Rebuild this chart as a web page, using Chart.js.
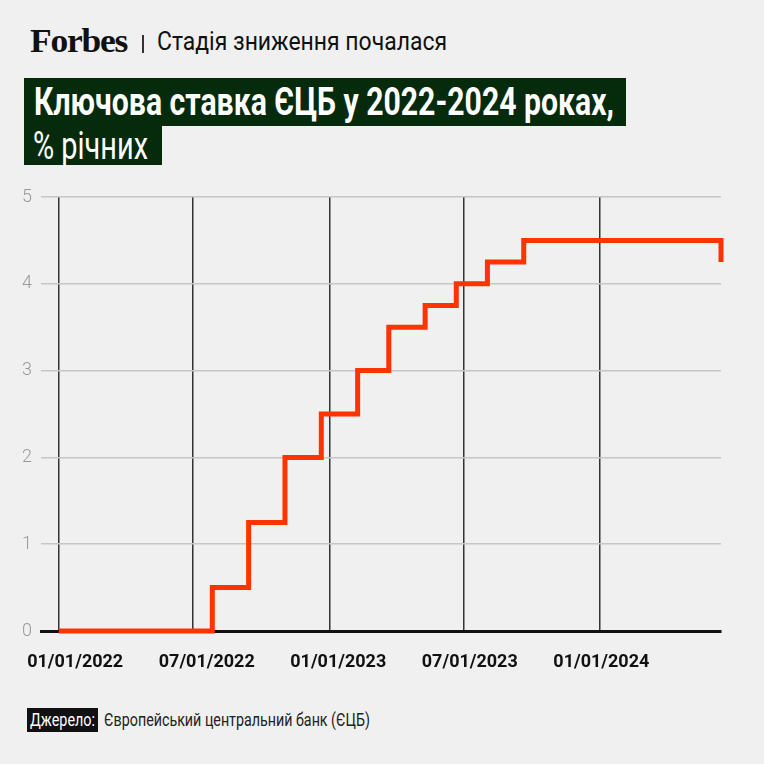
<!DOCTYPE html>
<html>
<head>
<meta charset="utf-8">
<script src="https://cdn.jsdelivr.net/npm/chart.js@4"></script>
<style>
  body { margin: 0; background: #f0f0f0; }
  #page { position: relative; width: 764px; height: 764px; background: #f0f0f0; overflow: hidden;
          font-family: Roboto, sans-serif; }
  .fit { position: absolute; white-space: nowrap; transform-origin: 0 0; display: inline-block; }
  .logo { left: 30px; top: 22px; font-family: "Liberation Serif", serif; font-weight: bold;
          font-size: 34px; letter-spacing: -1.2px; color: #111; }
  .sep { position: absolute; left: 142px; top: 35px; width: 2px; height: 18px; background: #333; }
  .sub { left: 157px; top: 26px; font-size: 26px; color: #111; }
  .box { position: absolute; background: #062a0c; }
  #b1 { left: 24px; top: 78px; width: 602px; height: 48px; }
  #b2 { left: 24px; top: 126px; width: 138px; height: 39px; }
  .t1 { left: 34px; top: 80px; color: #fff; font-weight: bold; font-size: 38px; }
  .t2 { left: 33px; top: 124px; color: #fff; font-size: 38px; }
  .srcbox { position: absolute; left: 27px; top: 708px; width: 71px; height: 24px; background: #111; }
  .s1 { left: 30px; top: 708px; font-size: 19px; color: #fff; }
  .s2 { left: 104px; top: 708px; font-size: 19px; color: #222; }
  #wrap { position: absolute; left: 0; top: 180px; width: 764px; height: 500px; }
</style>
</head>
<body>
<div id="page">
  <div class="fit logo" data-w="97">Forbes</div>
  <div class="sep"></div>
  <div class="fit sub" data-w="290">Стадія зниження почалася</div>
  <div class="box" id="b1"></div>
  <div class="box" id="b2"></div>
  <div class="fit t1" data-w="580">Ключова ставка ЄЦБ у 2022-2024 роках,</div>
  <div class="fit t2" data-w="115">% річних</div>
  <div class="srcbox"></div>
  <div class="fit s1" data-w="65">Джерело:</div>
  <div class="fit s2" data-w="266">Європейський центральний банк (ЄЦБ)</div>
  <div id="wrap"><canvas id="chart"></canvas></div>
</div>
<script>
// Days counted from 01/01/2022, rate valid from that day
const changeDays = [0, 207, 256, 305, 354, 403, 445, 494, 536, 578, 627, 893];
const rates = [0, 0.5, 1.25, 2.0, 2.5, 3.0, 3.5, 3.75, 4.0, 4.25, 4.5, 4.25];
const tickDays = [0, 181, 365, 546, 730];
const tickLabels = ['01/01/2022', '07/01/2022', '01/01/2023', '07/01/2023', '01/01/2024'];
const yTicks = [0, 1, 2, 3, 4, 5];

// squeeze header texts to the condensed widths of the original
document.querySelectorAll('.fit').forEach(el => {
  const w = el.getBoundingClientRect().width;
  el.style.transform = 'scaleX(' + (el.dataset.w / w) + ')';
});

new Chart(document.getElementById('chart'), {
  type: 'line',
  data: {
    datasets: [{
      data: changeDays.map((d, i) => ({ x: d, y: rates[i] })),
      borderColor: '#ff3300',
      borderWidth: 5,
      pointRadius: 0,
      stepped: true,
      borderJoinStyle: 'miter',
      clip: 10,
    }],
  },
  options: {
    responsive: true,
    maintainAspectRatio: false,
    animation: false,
    layout: { padding: { top: 17, right: 43, left: 0, bottom: 0 } },
    plugins: { legend: { display: false }, tooltip: { enabled: false } },
    scales: {
      x: {
        type: 'linear',
        min: -24,
        max: 893,
        afterBuildTicks: (s) => { s.ticks = tickDays.map(v => ({ value: v })); },
        afterFit: (s) => { s.height = 0; s.paddingLeft = 0; s.paddingRight = 0; },
        grid: { color: '#333', lineWidth: 1.5, drawTicks: false },
        border: { display: true, color: '#111', width: 3 },
        ticks: { display: false },
      },
      // labels sit on an even spacing, slightly off the gridlines, as in the original
      xLabels: {
        type: 'linear',
        position: 'bottom',
        min: -0.26,
        max: 4.91,
        afterBuildTicks: (s) => { s.ticks = tickLabels.map((t, i) => ({ value: i })); },
        afterFit: (s) => { s.height = 49; s.paddingLeft = 0; s.paddingRight = 0; },
        grid: { display: false, drawTicks: false },
        border: { display: false },
        ticks: {
          padding: 21,
          color: '#111',
          font: { family: 'Roboto', size: 18, weight: 'bold' },
          callback: (v) => tickLabels[v],
          maxRotation: 0,
          autoSkip: false,
        },
      },
      y: {
        min: 0,
        max: 5,
        afterBuildTicks: (s) => { s.ticks = yTicks.map(v => ({ value: v })); },
        afterFit: (s) => { s.width = 41; s.paddingTop = 0; s.paddingBottom = 0; },
        grid: {
          color: (c) => c.tick && c.tick.value === 0 ? 'rgba(0,0,0,0)' : '#c6c6c6',
          lineWidth: 1.5,
          drawTicks: false,
        },
        border: { display: false },
        ticks: {
          padding: 9,
          color: '#999',
          font: { family: 'Roboto', size: 18, weight: '300' },
        },
      },
    },
  },
});
</script>
</body>
</html>
